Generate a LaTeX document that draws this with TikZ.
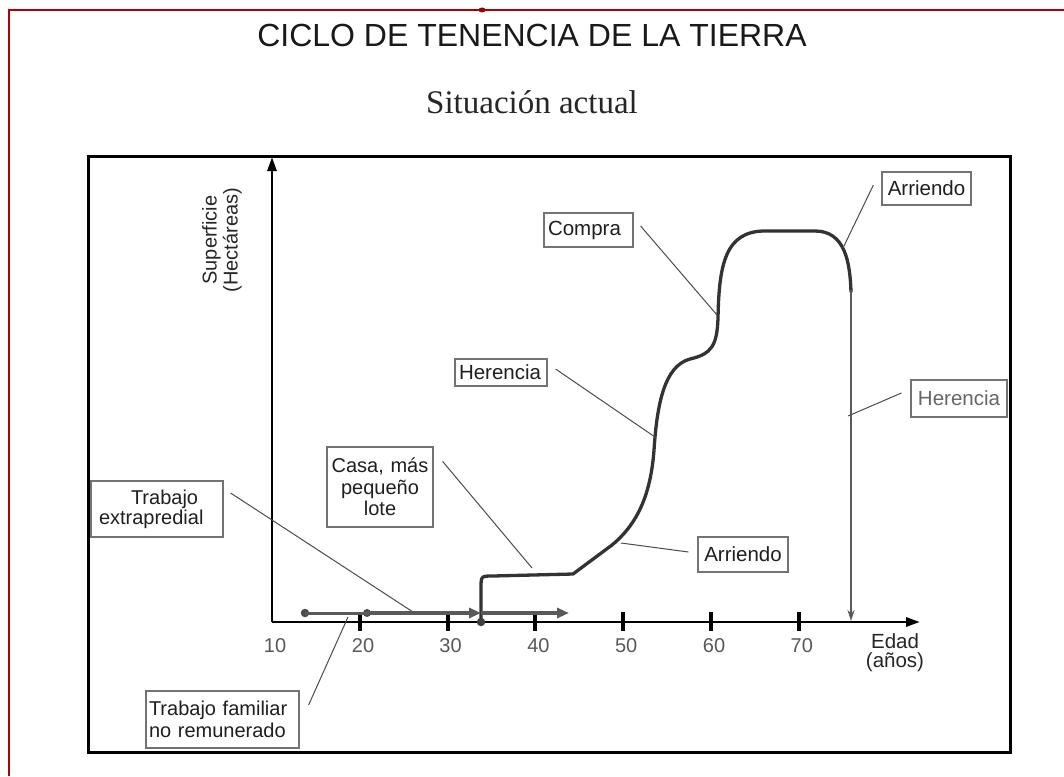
\documentclass[tikz,border=0pt]{standalone}
\usepackage{fontspec}
\setmainfont{Liberation Sans}
\newfontfamily\subserif{Liberation Serif}
\usetikzlibrary{arrows.meta}
\begin{document}
\begin{tikzpicture}[x=1pt,y=-1pt,
  lbl/.style={draw=black!55, line width=1.2pt, fill=white, inner ysep=2pt,
    font=\fontsize{20.5}{22}\selectfont, text=black!88},
  leader/.style={draw=black!70, line width=1pt},
  axisline/.style={line width=2.8pt, -{Triangle[length=14pt,width=9pt]}},
  curveline/.style={line width=3.3pt, draw=black!80, line join=round, line cap=round},
  tickmark/.style={line width=4pt},
  ticklab/.style={font=\fontsize{20}{20}\selectfont, text=black!65},
  harrow/.style={line width=4.5pt, draw=black!65, -{Triangle[length=12pt,width=10pt]}},
  dotmark/.style={circle, fill=black!70, inner sep=0pt, minimum size=8.5pt}
]
\useasboundingbox (0,0) rectangle (1064,776);
\fill[white] (0,0) rectangle (1064,776);
% red page border
\draw[red!70!black, line width=1.5pt] (9,776) -- (9,10) -- (1064,10);
\fill[red!60!black] (482,10) ellipse (3.5pt and 2.5pt);

% titles
\node[anchor=base, font=\fontsize{32}{34}\selectfont, text=black!90] (title) at (532,47) {CICLO DE TENENCIA DE LA TIERRA};
\node[anchor=base, font=\subserif\fontsize{33}{35}\selectfont, text=black!85] (subtitle) at (532,113) {Situación actual};

% frame
\draw[line width=3pt] (88,156) rectangle (1010,752);

% axes
\coordinate (O) at (272,622);
\coordinate (ytop) at (272,157);
\coordinate (xend) at (920,622);
\draw[axisline] (O) -- (ytop);
\draw[axisline] (O) -- (xend);

% ticks
\foreach \a/\xx in {20/359.8,30/447.6,40/535.4,50/623.2,60/711,70/798.8}{
  \draw[tickmark] (\xx,612) -- (\xx,631);
}
\foreach \a/\xx in {10/275,20/363,30/450.6,40/538.4,50/626.2,60/714,70/801.8}{
  \node[ticklab] (t\a) at (\xx,645.5) {\a};
}

% axis labels
\node[rotate=90, align=center, font=\fontsize{20}{21}\selectfont, text=black!85] (ylab) at (222,240) {Superficie\\(Hectáreas)};
\node[align=center, font=\fontsize{20.5}{19}\selectfont, text=black!85] (xlab) at (895,653) {Edad\\(años)};

% main curve
\draw[curveline] (481,622) -- (481,588) .. controls (481,576) .. (493,576) -- (573,574) -- (612,545)
  .. controls (640,522) and (651,490) .. (654,450)
  .. controls (657,405) and (664,366) .. (690,359)
  .. controls (712,354) and (717,345) .. (718,318)
  .. controls (719,265) and (725,231) .. (765,231)
  -- (815,231) .. controls (845,231) and (850,262) .. (851,292);
\coordinate (vtop) at (851,290);
\coordinate (vbot) at (851,621);
\draw[line width=2pt, draw=black!65, -{Stealth[length=11pt,width=7pt]}] (vtop) -- (vbot);

% horizontal work arrows
\node[dotmark] (d1) at (305,613) {};
\node[dotmark, minimum size=8pt] (d2) at (367,613) {};
\coordinate (h1) at (481,613);
\coordinate (h2) at (569,613);
\draw[line width=3pt, draw=black!65] (d1.center) -- (d2.center);
\draw[harrow] (d2.center) -- (h1);
\draw[harrow] (h1) -- (h2);
\node[dotmark, fill=black!75] (d3) at (481,622) {};

% labels
\node[lbl, text width=81pt, inner xsep=4pt, minimum height=34pt, align=left] (compra) at (588.5,230) {Compra};
\node[lbl, text width=84pt, inner xsep=4pt, minimum height=27pt, align=left] (herL) at (501,372.5) {Herencia};
\node[lbl, minimum width=89pt, minimum height=33pt, align=center] (arrT) at (926.5,188.5) {Arriendo};
\node[lbl, minimum width=96pt, minimum height=37pt, align=center, text=black!60] (herR) at (959,398.5) {Herencia};
\node[lbl, minimum width=90pt, minimum height=35pt, align=center] (arrB) at (743,554.5) {Arriendo};
\node[lbl, text width=104pt, inner xsep=1pt, minimum height=80pt, align=center, font=\fontsize{20}{21.5}\selectfont] (casa) at (380,487) {Casa, más\\pequeño\\lote};
\node[lbl, text width=116pt, inner xsep=8pt, minimum height=56pt, align=left, font=\fontsize{20}{16}\selectfont] (trab) at (157,509) {\hspace*{32pt}Trabajo\\extrapredial};
\node[lbl, text width=147pt, inner xsep=3pt, minimum height=57pt, align=left, font=\fontsize{20}{22}\selectfont] (fam) at (222.5,719.5) {Trabajo familiar\\no remunerado};

% leader end points
\coordinate (cCompra) at (717,315);
\coordinate (cHerL) at (655,437);
\coordinate (cArrT) at (843,248);
\coordinate (cHerR) at (848,416);
\coordinate (cArrB) at (621,543);
\coordinate (cCasa) at (532,568);
\coordinate (cTrab) at (413,612);
\coordinate (cFam) at (348,617);

\draw[leader] ([xshift=7pt,yshift=4pt]compra.east) -- (cCompra);
\draw[leader] ([xshift=8pt,yshift=3.5pt]herL.east) -- (cHerL);
\draw[leader] ([xshift=-8pt,yshift=3.5pt]arrT.west) -- (cArrT);
\draw[leader] ([xshift=-9pt,yshift=5.5pt]herR.west) -- (cHerR);
\draw[leader] ([xshift=-9pt,yshift=2.5pt]arrB.west) -- (cArrB);
\draw[leader] ([xshift=9pt,yshift=-15pt]casa.north east) -- (cCasa);
\draw[leader] ([xshift=7pt,yshift=16pt]trab.east) -- (cTrab);
\draw[leader] ([xshift=9pt,yshift=14.5pt]fam.east) -- (cFam);
\end{tikzpicture}
\end{document}
